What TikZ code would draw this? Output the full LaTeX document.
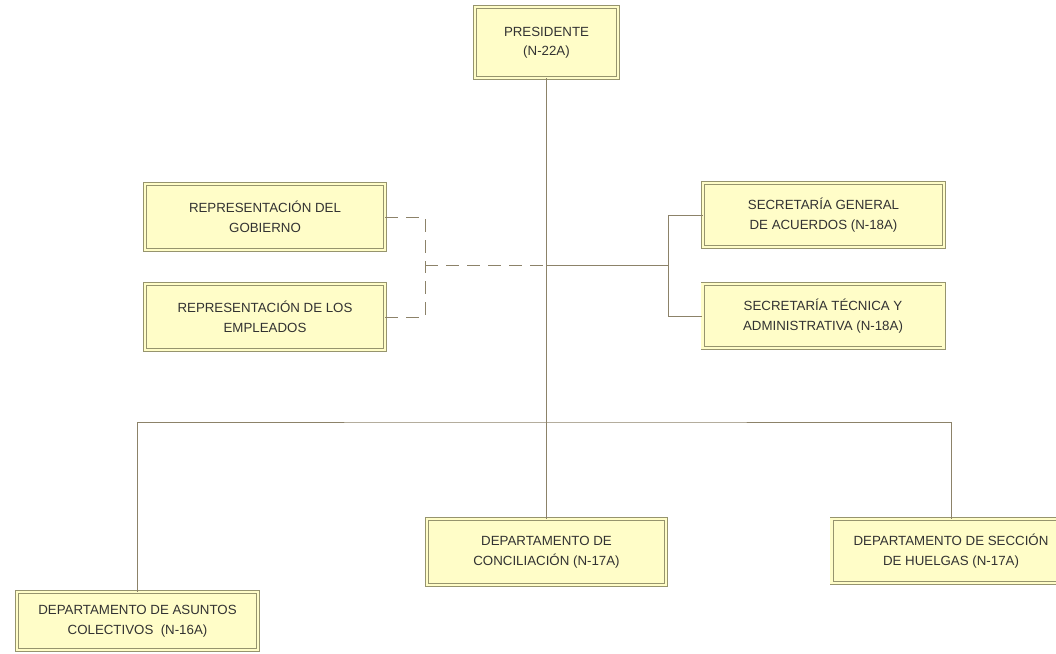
\documentclass[tikz,border=0pt]{standalone}
\usepackage{fontspec}
\setmainfont{Liberation Sans}
\definecolor{boxfill}{RGB}{255,253,200}
\definecolor{bordercol}{RGB}{150,148,110}
\definecolor{linecol}{RGB}{140,130,105}
\definecolor{textcol}{RGB}{50,50,50}
\tikzset{
  orgbox/.style={draw=bordercol, line width=0.7pt, double=boxfill, double distance=2.6pt,
    fill=boxfill, inner sep=0pt, align=center, text=textcol,
    font=\fontsize{13.3}{19.5}\selectfont},
  link/.style={draw=linecol, line width=0.9pt},
  dlink/.style={link, dash pattern=on 13pt off 8pt}
}
\begin{document}
\begin{tikzpicture}[x=1pt,y=-1pt]
\useasboundingbox[fill=white] (0,0) rectangle (1056,653);
\begin{scope}
\clip (0,0) rectangle (1056,653);
\node[orgbox, minimum width=143pt, minimum height=71pt] (pres) at (546.5,42.5) {PRESIDENTE\\(N-22A)};
\node[orgbox, minimum width=240pt, minimum height=66pt] (gob) at (265,217) {REPRESENTACIÓN DEL\\GOBIERNO};
\node[orgbox, minimum width=240pt, minimum height=66pt] (emp) at (265,317) {REPRESENTACIÓN DE LOS\\EMPLEADOS};
\node[orgbox, minimum width=241pt, minimum height=64pt] (sga) at (823.5,215) {SECRETARÍA GENERAL\\DE ACUERDOS (N-18A)};
\node[orgbox, minimum width=241pt, minimum height=64pt] (sta) at (823,316) {SECRETARÍA TÉCNICA Y\\ADMINISTRATIVA (N-18A)};
\node[orgbox, minimum width=239pt, minimum height=66pt] (concil) at (546.5,552) {DEPARTAMENTO DE\\CONCILIACIÓN (N-17A)};
\node[orgbox, minimum width=239pt, minimum height=64pt] (huel) at (951,551) {DEPARTAMENTO DE SECCIÓN\\DE HUELGAS (N-17A)};
\node[orgbox, minimum width=241pt, minimum height=58pt] (asun) at (137.5,621) {DEPARTAMENTO DE ASUNTOS\\COLECTIVOS\ \ (N-16A)};

\coordinate (hl) at (546.5,422);
\coordinate (dj) at (425,265);
\coordinate (mj) at (546.5,265);
\coordinate (rj) at (668,265);

\draw[link] (pres.south) -- (concil.north);
\draw[link] (asun.north) |- (hl) -| (huel.north);
\draw[dlink] (gob.east) -| (dj);
\draw[dlink] (emp.east) -| (dj);
\draw[dlink] (dj) -- (mj);
\draw[link] (mj) -- (rj);
\draw[link] (sga.west) -| (rj);
\draw[link] (sta.west) -| (rj);
\end{scope}
\end{tikzpicture}
\end{document}
